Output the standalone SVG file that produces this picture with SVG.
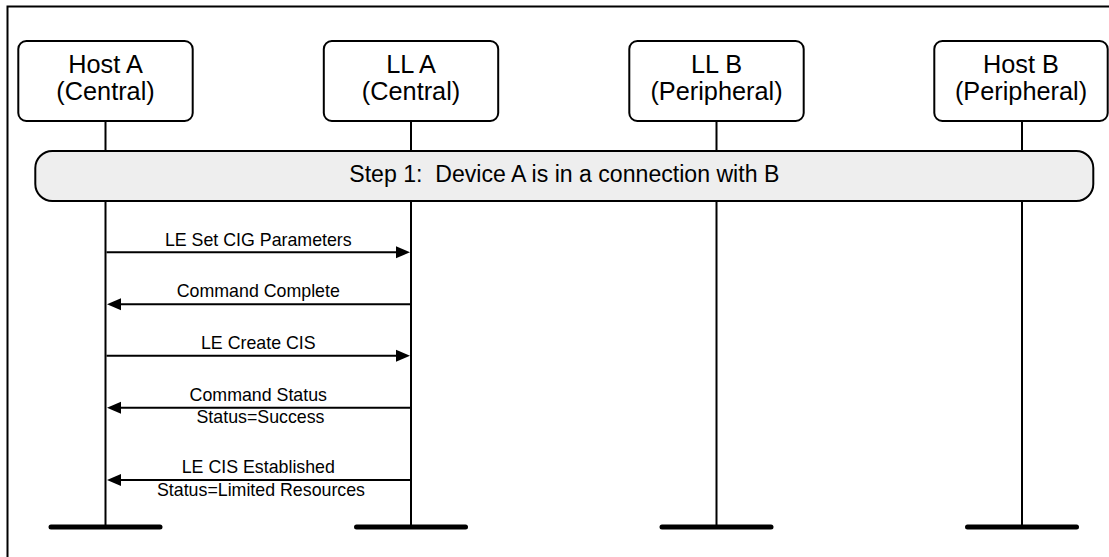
<svg xmlns="http://www.w3.org/2000/svg" width="1109" height="557" viewBox="0 0 1109 557">
<defs>
<style>
.frame{fill:none;stroke:#000;stroke-width:2}
.box{fill:#fff;stroke:#000;stroke-width:2}
.step{fill:#eeeeee;stroke:#000;stroke-width:2}
.life{stroke:#000;stroke-width:2;fill:none}
.bar{stroke:#000;stroke-width:5;stroke-linecap:round;fill:none}
.msg{stroke:#000;stroke-width:2;fill:none}
.head{fill:#000}
.lbl{font-family:"Liberation Sans",Arial,sans-serif;font-size:25.3px;fill:#000;text-anchor:middle}
.stxt{font-family:"Liberation Sans",Arial,sans-serif;font-size:23.1px;fill:#000;text-anchor:middle}
.mtxt{font-family:"Liberation Sans",Arial,sans-serif;font-size:17.8px;fill:#000;text-anchor:middle}
</style>
</defs>
<rect width="1109" height="557" fill="#fff"/>
<path class="frame" d="M7.5,557 V6.5 H1109"/>

<g id="lifelines">
<line class="life" x1="105.5" y1="121" x2="105.5" y2="527"/>
<line class="life" x1="411" y1="121" x2="411" y2="527"/>
<line class="life" x1="716.5" y1="121" x2="716.5" y2="527"/>
<line class="life" x1="1022" y1="121" x2="1022" y2="527"/>
<line class="bar" x1="51" y1="527" x2="160" y2="527"/>
<line class="bar" x1="356.5" y1="527" x2="465.5" y2="527"/>
<line class="bar" x1="662" y1="527" x2="771" y2="527"/>
<line class="bar" x1="967.5" y1="527" x2="1076.5" y2="527"/>
</g>

<g id="hostA">
<rect class="box" x="18.3" y="41" width="174.4" height="80" rx="8"/>
<text class="lbl" x="105.5" y="73.3">Host A</text>
<text class="lbl" x="105.5" y="99.5">(Central)</text>
</g>
<g id="llA">
<rect class="box" x="323.8" y="41" width="174.4" height="80" rx="8"/>
<text class="lbl" x="411" y="73.3">LL A</text>
<text class="lbl" x="411" y="99.5">(Central)</text>
</g>
<g id="llB">
<rect class="box" x="629.3" y="41" width="174.4" height="80" rx="8"/>
<text class="lbl" x="716.5" y="73.3">LL B</text>
<text class="lbl" x="716.5" y="99.5">(Peripheral)</text>
</g>
<g id="hostB">
<rect class="box" x="934.3" y="41" width="173.4" height="80" rx="8"/>
<text class="lbl" x="1021" y="73.3">Host B</text>
<text class="lbl" x="1021" y="99.5">(Peripheral)</text>
</g>

<g id="step1">
<rect class="step" x="35.3" y="151" width="1058" height="50" rx="17"/>
<text class="stxt" x="564.3" y="182.3" xml:space="preserve">Step 1:  Device A is in a connection with B</text>
</g>

<g id="connectors">
<line class="msg" x1="106.5" y1="252.3" x2="398" y2="252.3"/>
<polygon class="head" points="410,252.3 396,246.3 396,258.3"/>
<text class="mtxt" x="258.3" y="246">LE Set CIG Parameters</text>

<line class="msg" x1="410" y1="304.3" x2="119" y2="304.3"/>
<polygon class="head" points="107,304.3 121,298.3 121,310.3"/>
<text class="mtxt" x="258.3" y="297.3">Command Complete</text>

<line class="msg" x1="106.5" y1="355.7" x2="398" y2="355.7"/>
<polygon class="head" points="410,355.7 396,349.7 396,361.7"/>
<text class="mtxt" x="258.3" y="349.3">LE Create CIS</text>

<line class="msg" x1="410" y1="407.7" x2="119" y2="407.7"/>
<polygon class="head" points="107,407.7 121,401.7 121,413.7"/>
<text class="mtxt" x="258.3" y="400.7">Command Status</text>
<text class="mtxt" x="260.5" y="423.3">Status=Success</text>

<line class="msg" x1="410" y1="480" x2="119" y2="480"/>
<polygon class="head" points="107,480 121,474 121,486"/>
<text class="mtxt" x="258.3" y="473.3">LE CIS Established</text>
<text class="mtxt" x="261" y="496">Status=Limited Resources</text>
</g>
</svg>
